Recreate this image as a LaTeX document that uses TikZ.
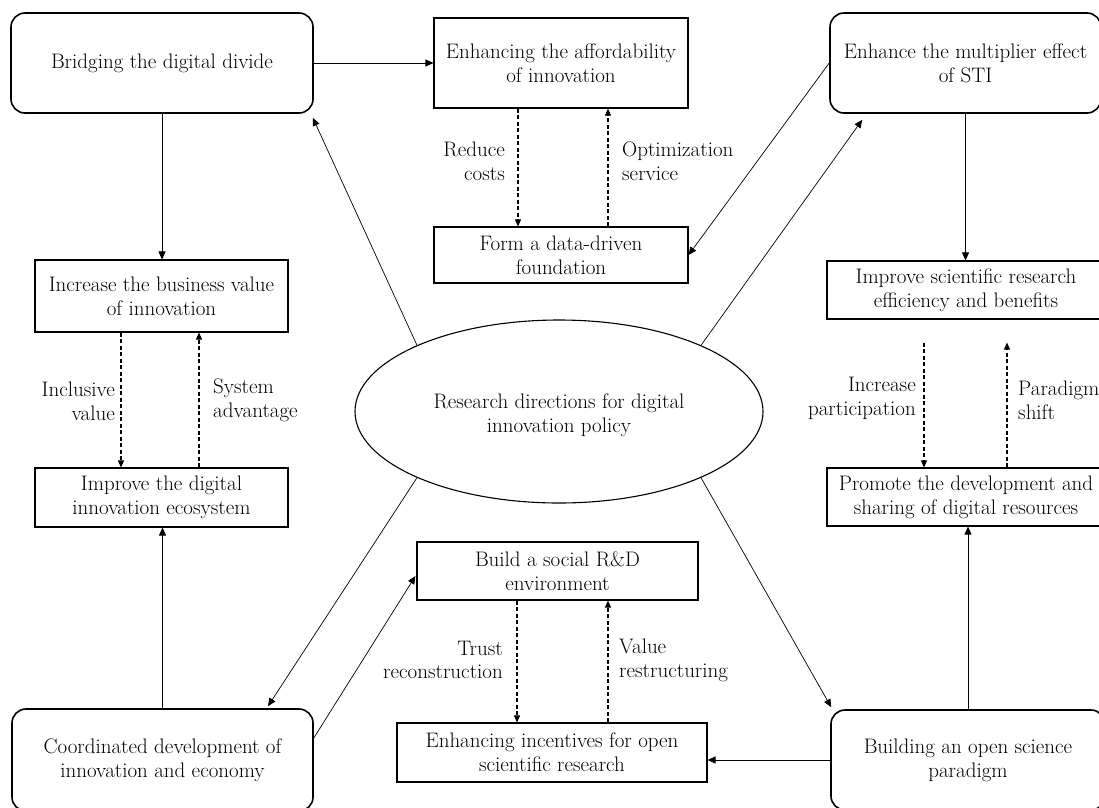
\documentclass[tikz,border=0pt]{standalone}
\usetikzlibrary{arrows.meta,shapes.geometric,calc}
\begin{document}
\begin{tikzpicture}[x=1pt,y=-1pt,
  every node/.style={font=\fontsize{21}{23.8}\selectfont, inner sep=0pt, align=center},
  rbox/.style={draw, line width=1.6pt, rounded corners=14pt},
  sbox/.style={draw, line width=1.1pt},
  conn/.style={line width=0.7pt, -{Triangle[length=8pt,width=7pt]}},
  dasharrow/.style={line width=1.1pt, dash pattern=on 4pt off 2.5pt, -{Triangle[length=7pt,width=6pt]}},
  lab/.style={font=\fontsize{21}{23.8}\selectfont}
]
\clip (0,0) rectangle (1099,807);
\fill[white] (0,0) rectangle (1099,807);

% nodes
\node[rbox, minimum width=302pt, minimum height=100pt] (bridge) at (162,63) {Bridging the digital divide};
\node[sbox, minimum width=254pt, minimum height=90pt] (afford) at (561,63) {Enhancing the affordability\\of innovation};
\node[sbox, minimum width=254pt, minimum height=56pt] (data) at (561,255) {Form a data-driven\\foundation};
\node[rbox, minimum width=271pt, minimum height=100pt] (multi) at (965.5,63) {Enhance the multiplier effect\\of STI};
\node[sbox, minimum width=278pt, minimum height=58pt] (sci) at (966,290) {Improve scientific research\\efficiency and benefits};
\node[sbox, minimum width=278pt, minimum height=58pt] (promote) at (966,497) {Promote the development and\\sharing of digital resources};
\node[rbox, minimum width=274pt, minimum height=100pt] (building) at (968,760) {Building an open science\\paradigm};
\node[sbox, minimum width=310pt, minimum height=59pt] (incent) at (552,752.5) {Enhancing incentives for open\\scientific research};
\node[sbox, minimum width=281pt, minimum height=58pt] (social) at (557.5,571) {Build a social R\&D\\environment};
\node[rbox, minimum width=301pt, minimum height=102pt] (coord) at (162.5,760) {Coordinated development of\\innovation and economy};
\node[sbox, minimum width=253pt, minimum height=59pt] (digital) at (161.5,497.5) {Improve the digital\\innovation ecosystem};
\node[sbox, minimum width=253pt, minimum height=72pt] (business) at (161.5,296) {Increase the business value\\of innovation};
\node[draw, ellipse, line width=1.1pt, minimum width=408pt, minimum height=183pt] (ell) at (559,411.5) {};
\node (elltext) at (559,415) {Research directions for digital\\innovation policy};

% solid connectors
\draw[conn] (bridge.east) -- (afford.west);
\draw[conn] (bridge.south) -- (bridge.south |- business.north);
\draw[conn] (coord.north) -- (coord.north |- digital.south);
\draw[conn] (multi.south) -- (multi.south |- sci.north);
\draw[conn] (building.north) -- (building.north |- promote.south);
\draw[conn] (building.west) -- (building.west -| incent.east);
\draw[conn] (multi.west) -- (data.east);
\draw[conn] (ell.155) -- ($(bridge.south east)+(-1,4)$);
\draw[conn] (ell.25) -- ($(multi.south west)+(33,6)$);
\draw[conn] (ell.-25) -- ($(building.north west)+(1,-2)$);
\draw[conn] (ell.205) -- ($(coord.north)+(105.5,-2)$);
\draw[conn] ($(coord.east)+(0,-22)$) -- ($(social.west)+(-1,5)$);

% dashed connectors
\coordinate (a1) at ($(afford.south)+(-43,0)$);
\coordinate (a2) at ($(afford.south)+(47,0)$);
\draw[dasharrow] (a1) -- (a1 |- data.north);
\draw[dasharrow] (a2 |- data.north) -- (a2);
\node[lab, anchor=east, align=right] (l1) at (505,161) {Reduce\\costs};
\node[lab, anchor=west, align=left] (l2) at (622,161) {Optimization\\service};

\coordinate (b1) at ($(business.south)+(-40.5,0)$);
\coordinate (b2) at ($(business.south)+(37.5,0)$);
\draw[dasharrow] (b1) -- (b1 |- digital.north);
\draw[dasharrow] (b2 |- digital.north) -- (b2);
\node[lab, anchor=east, align=right] (l3) at (115,401) {Inclusive\\value};
\node[lab, anchor=west, align=left] (l4) at (213,400) {System\\advantage};

\coordinate (c1) at ($(sci.south)+(-42,23)$);
\coordinate (c2) at ($(sci.south)+(41,23)$);
\draw[dasharrow] (c1) -- (c1 |- promote.north);
\draw[dasharrow] (c2 |- promote.north) -- (c2);
\node[lab, anchor=east, align=right] (l5) at (916,398) {Increase\\participation};
\node[lab, anchor=west, align=left] (l6) at (1018,400) {Paradigm\\shift};

\coordinate (d1) at ($(social.south)+(-40.5,0)$);
\coordinate (d2) at ($(social.south)+(50.5,0)$);
\draw[dasharrow] (d1) -- (d1 |- incent.north);
\draw[dasharrow] (d2 |- incent.north) -- (d2);
\node[lab, anchor=east, align=right] (l7) at (503,660) {Trust\\reconstruction};
\node[lab, anchor=west, align=left] (l8) at (619,660) {Value\\restructuring};
\end{tikzpicture}
\end{document}
